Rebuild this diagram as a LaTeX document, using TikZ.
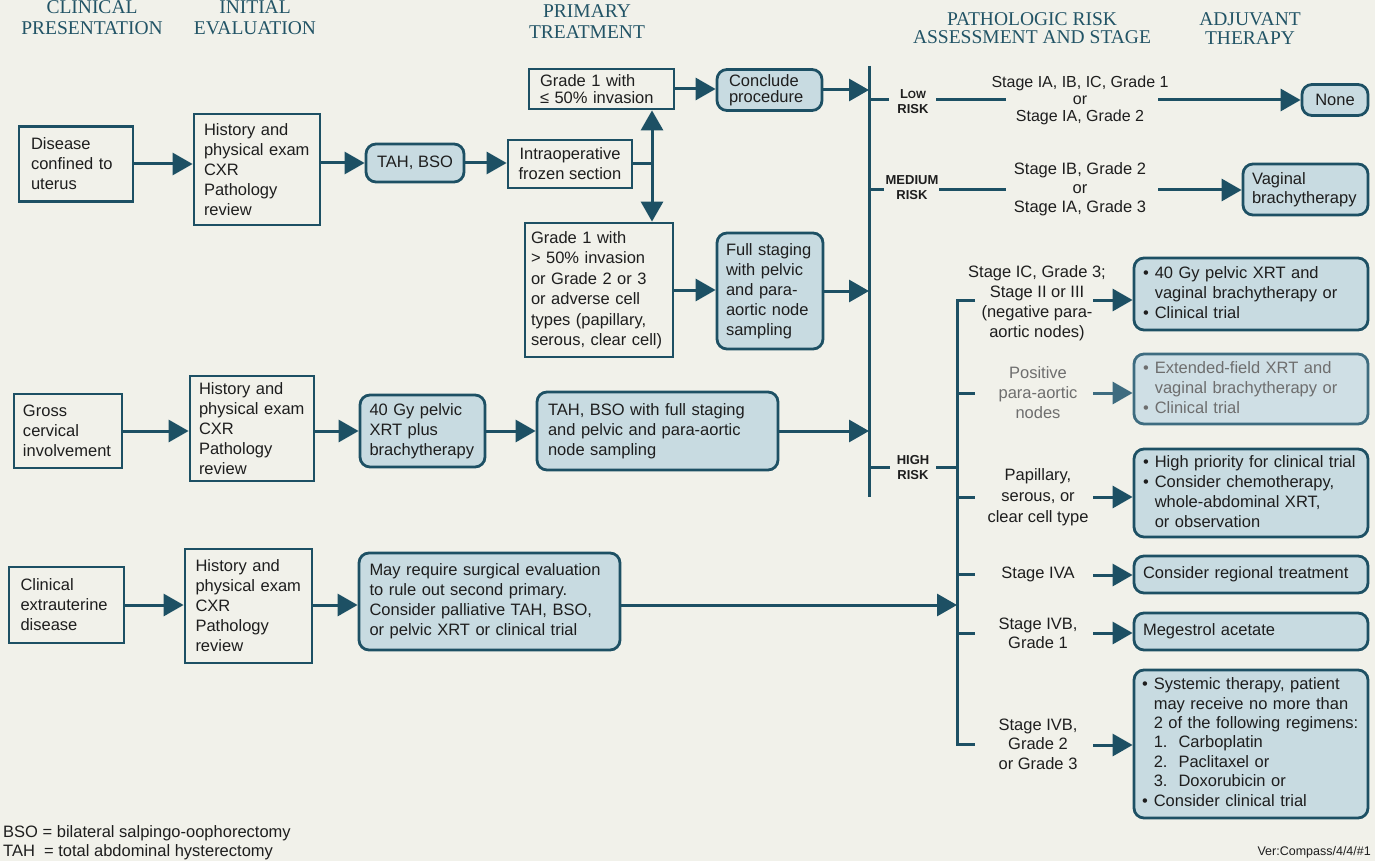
\documentclass[tikz,border=0pt]{standalone}
\usepackage{fontspec}
\setmainfont{Liberation Sans}
\newfontfamily\hdrserif{Liberation Serif}
\usetikzlibrary{arrows.meta}
\definecolor{ink}{RGB}{29,80,100}
\definecolor{boxfill}{RGB}{200,219,225}
\definecolor{bgc}{RGB}{241,241,234}
\definecolor{txt}{RGB}{30,30,30}
\definecolor{hdrc}{RGB}{34,84,102}
\definecolor{fadeink}{RGB}{62,108,128}
\definecolor{fadefill}{RGB}{207,223,229}
\definecolor{fadetxt}{RGB}{110,110,110}
\begin{document}
\begin{tikzpicture}[x=1pt,y=-1pt,
  every node/.style={text=txt},
  font=\fontsize{16.5}{20}\selectfont,
  ln/.style={draw=ink,line width=3pt},
  arr/.style={ln,-{Triangle[length=20pt,width=22pt]}},
  fadearr/.style={draw=fadeink,line width=3pt,-{Triangle[length=20pt,width=22pt]}},
  pbox/.style={draw=ink,line width=2.8pt,align=left,inner xsep=0pt,inner ysep=0pt},
  rbox/.style={pbox,rounded corners=10pt,fill=boxfill},
  cbox/.style={rbox,align=center},
  lbl/.style={align=center,inner sep=0pt},
  risk/.style={align=center,inner sep=0pt,font=\fontsize{13}{15}\selectfont\bfseries},
  hdr/.style={align=center,inner sep=0pt,text=hdrc,font=\hdrserif\fontsize{19.5}{21}\selectfont}]

\fill[bgc] (0,0) rectangle (1375,861);
\useasboundingbox (0,0) rectangle (1375,861);

% headers
\node[hdr] (hA) at (92,18) {CLINICAL\\PRESENTATION};
\node[hdr] (hB) at (255,18) {INITIAL\\EVALUATION};
\node[hdr] (hC) at (587,22) {PRIMARY\\TREATMENT};
\node[hdr,font=\hdrserif\fontsize{19.5}{18.5}\selectfont] (hD) at (1032,28) {PATHOLOGIC RISK\\ASSESSMENT AND STAGE};
\node[hdr,font=\hdrserif\fontsize{19.5}{19}\selectfont] (hE) at (1250,29) {ADJUVANT\\THERAPY};

% row 1
\node[pbox,minimum width=114pt,minimum height=75pt,text width=90pt] (dis) at (76,164) {Disease\\confined to\\uterus};
\node[pbox,minimum width=126pt,minimum height=111pt,text width=106pt] (hist1) at (257,169.5) {History and\\physical exam\\CXR\\Pathology\\review};
\node[cbox,minimum width=98pt,minimum height=38pt] (tah1) at (415,163) {TAH, BSO};
\node[pbox,align=center,minimum width=124pt,minimum height=48pt] (intra) at (570,164) {Intraoperative\\frozen section};
\node[pbox,minimum width=145pt,minimum height=40pt,text width=123pt,font=\fontsize{16.5}{16.5}\selectfont] (g1le) at (601.5,89) {Grade 1 with\\≤ 50\% invasion};
\node[rbox,minimum width=105pt,minimum height=41pt,text width=81pt,font=\fontsize{16.5}{16.5}\selectfont] (concl) at (769.5,90) {Conclude\\procedure};
\node[pbox,minimum width=148pt,minimum height=134pt,text width=136pt,font=\fontsize{16.5}{20.5}\selectfont] (g1gt) at (599,290) {Grade 1 with\\> 50\% invasion\\or Grade 2 or 3\\or adverse cell\\types (papillary,\\serous, clear cell)};
\node[rbox,minimum width=106pt,minimum height=116pt,text width=88pt] (full) at (770,291) {Full staging\\with pelvic\\and para-\\aortic node\\sampling};

% row 2
\node[pbox,minimum width=108pt,minimum height=74pt,text width=90pt] (gross) at (68,431) {Gross\\cervical\\involvement};
\node[pbox,minimum width=124pt,minimum height=105pt,text width=106pt] (hist2) at (252,428.5) {History and\\physical exam\\CXR\\Pathology\\review};
\node[rbox,minimum width=125pt,minimum height=72pt,text width=106pt] (gy40) at (422.5,431) {40 Gy pelvic\\XRT plus\\brachytherapy};
\node[rbox,minimum width=241pt,minimum height=78pt,text width=219pt] (tahf) at (657.5,431) {TAH, BSO with full staging\\and pelvic and para-aortic\\node sampling};

% row 3
\node[pbox,minimum width=115pt,minimum height=76pt,text width=92pt] (clin) at (66.5,605) {Clinical\\extrauterine\\disease};
\node[pbox,minimum width=127pt,minimum height=114pt,text width=106pt] (hist3) at (248.5,606) {History and\\physical exam\\CXR\\Pathology\\review};
\node[rbox,minimum width=261pt,minimum height=97pt,text width=240pt] (may) at (489.5,601.5) {May require surgical evaluation\\to rule out second primary.\\Consider palliative TAH, BSO,\\or pelvic XRT or clinical trial};

% bars
\coordinate (b1t) at (869,66);
\coordinate (b1b) at (869,497);
\draw[ln] (b1t) -- (b1b);
\coordinate (h0) at (975,300);
\coordinate (h1) at (957,300);
\coordinate (h2) at (957,744);
\coordinate (h3) at (975,744);
\draw[ln,line join=miter] (h0) -- (h1) -- (h2) -- (h3);

% left connectors
\draw[arr] (dis.east) -- (dis.east -| hist1.west);
\draw[arr] (hist1.east |- tah1.west) -- (tah1.west);
\draw[arr] (tah1.east) -- (tah1.east -| intra.west);
\coordinate (fk) at (652,164);
\draw[ln] (intra.east) -- (intra.east -| fk);
\draw[arr] (fk) -- (fk |- g1le.south);
\draw[arr] (fk) -- (fk |- g1gt.north);
\draw[arr] (g1le.east) -- (g1le.east -| concl.west);
\draw[arr] (concl.east) -- (concl.east -| b1t);
\draw[arr] (g1gt.east) -- (g1gt.east -| full.west);
\draw[arr] (full.east) -- (full.east -| b1t);
\draw[arr] (gross.east) -- (gross.east -| hist2.west);
\draw[arr] (hist2.east |- gy40.west) -- (gy40.west);
\draw[arr] (gy40.east) -- (gy40.east -| tahf.west);
\draw[arr] (tahf.east) -- (tahf.east -| b1t);
\draw[arr] (clin.east) -- (clin.east -| hist3.west);
\draw[arr] (hist3.east |- clin.east) -- (may.west |- clin.east);
\draw[arr] (may.east |- clin.east) -- (clin.east -| h1);

% risk labels
\node[risk] (lowl) at (913,102) {L{\fontsize{10.5}{15}\selectfont OW}\\RISK};
\node[risk] (medl) at (912,188) {MEDIUM\\RISK};
\node[risk] (highl) at (913,468) {HIGH\\RISK};

% stage labels
\node[lbl,font=\fontsize{16}{17}\selectfont] (slow) at (1080,100) {Stage IA, IB, IC, Grade 1\\or\\Stage IA, Grade 2};
\node[lbl,font=\fontsize{16.5}{19}\selectfont] (smed) at (1080,189) {Stage IB, Grade 2\\or\\Stage IA, Grade 3};
\node[lbl] (s1) at (1037,303) {Stage IC, Grade 3;\\Stage II or III\\(negative para-\\aortic nodes)};
\node[lbl,text=fadetxt] (s2) at (1038,393) {Positive\\para-aortic\\nodes};
\node[lbl,font=\fontsize{16.5}{21}\selectfont] (s3) at (1038,497) {Papillary,\\serous, or\\clear cell type};
\node[lbl] (s4) at (1038,574) {Stage IVA};
\node[lbl,font=\fontsize{16.5}{19}\selectfont] (s5) at (1038,633) {Stage IVB,\\Grade 1};
\node[lbl,font=\fontsize{16.5}{19.5}\selectfont] (s6) at (1038,744) {Stage IVB,\\Grade 2\\or Grade 3};

% adjuvant boxes
\node[cbox,minimum width=66pt,minimum height=31pt] (none) at (1335,100) {None};
\node[rbox,minimum width=125pt,minimum height=51pt,text width=107pt,font=\fontsize{16.5}{19}\selectfont] (vag) at (1305.5,189.5) {Vaginal\\brachytherapy};
\node[rbox,minimum width=234pt,minimum height=72pt,text width=216pt] (a1) at (1251,294) {\begin{tabular}{@{}l@{\hspace{6pt}}l@{}}\textbullet & 40 Gy pelvic XRT and\\ & vaginal brachytherapy or\\ \textbullet & Clinical trial\end{tabular}};
\node[rbox,draw=fadeink,fill=fadefill,text=fadetxt,minimum width=234pt,minimum height=70pt,text width=216pt] (a2) at (1251,389) {\begin{tabular}{@{}l@{\hspace{6pt}}l@{}}\textbullet & Extended-field XRT and\\ & vaginal brachytherapy or\\ \textbullet & Clinical trial\end{tabular}};
\node[rbox,minimum width=234pt,minimum height=88pt,text width=216pt] (a3) at (1251,493) {\begin{tabular}{@{}l@{\hspace{6pt}}l@{}}\textbullet & High priority for clinical trial\\ \textbullet & Consider chemotherapy,\\ & whole-abdominal XRT,\\ & or observation\end{tabular}};
\node[rbox,minimum width=234pt,minimum height=37pt,text width=216pt] (a4) at (1251,574.5) {Consider regional treatment};
\node[rbox,minimum width=234pt,minimum height=37pt,text width=216pt] (a5) at (1251,631.5) {Megestrol acetate};
\node[rbox,minimum width=234pt,minimum height=148pt,text width=218pt,font=\fontsize{16.5}{19.4}\selectfont] (a6) at (1251,744) {\begin{tabular}{@{}l@{\hspace{6pt}}l@{}}\textbullet & Systemic therapy, patient\\ & may receive no more than\\ & 2 of the following regimens:\\ & 1.\ \ Carboplatin\\ & 2.\ \ Paclitaxel or\\ & 3.\ \ Doxorubicin or\\ \textbullet & Consider clinical trial\end{tabular}};

% low risk row
\coordinate (lo1) at (889,100);
\coordinate (lo2) at (936,100);
\coordinate (lo3) at (1006,100);
\coordinate (lo4) at (1158,100);
\draw[ln] (lo1 -| b1t) -- (lo1);
\draw[ln] (lo2) -- (lo3);
\draw[arr] (lo4) -- (lo4 -| none.west);
% medium risk row
\coordinate (me1) at (884,190);
\coordinate (me2) at (939,190);
\coordinate (me3) at (1006,190);
\coordinate (me4) at (1158,190);
\draw[ln] (me1 -| b1t) -- (me1);
\draw[ln] (me2) -- (me3);
\draw[arr] (me4) -- (me4 -| vag.west);
% high risk row
\coordinate (hi1) at (890,467);
\coordinate (hi2) at (936,467);
\draw[ln] (hi1 -| b1t) -- (hi1);
\draw[ln] (hi2) -- (hi2 -| h1);
% high risk branches
\coordinate (st2) at (975,393);
\coordinate (st3) at (975,497);
\coordinate (st4) at (975,574);
\coordinate (st5) at (975,633);
\draw[ln] (st2 -| h1) -- (st2);
\draw[ln] (st3 -| h1) -- (st3);
\draw[ln] (st4 -| h1) -- (st4);
\draw[ln] (st5 -| h1) -- (st5);
\coordinate (t1) at (1093,300);
\coordinate (t2) at (1093,393);
\coordinate (t3) at (1093,497);
\coordinate (t4) at (1093,575);
\coordinate (t5) at (1093,633);
\coordinate (t6) at (1093,745);
\draw[arr] (t1) -- (t1 -| a1.west);
\draw[fadearr] (t2) -- (t2 -| a2.west);
\draw[arr] (t3) -- (t3 -| a3.west);
\draw[arr] (t4) -- (t4 -| a4.west);
\draw[arr] (t5) -- (t5 -| a5.west);
\draw[arr] (t6) -- (t6 -| a6.west);

% footnotes
\node[anchor=west,inner sep=0pt] (fn1) at (3,833) {BSO = bilateral salpingo-oophorectomy};
\node[anchor=west,inner sep=0pt] (fn2) at (3,852) {TAH\ \ = total abdominal hysterectomy};
\node[anchor=east,inner sep=0pt,font=\fontsize{12.5}{14}\selectfont] (ver) at (1371,852) {Ver:Compass/4/4/\#1};
\end{tikzpicture}
\end{document}
